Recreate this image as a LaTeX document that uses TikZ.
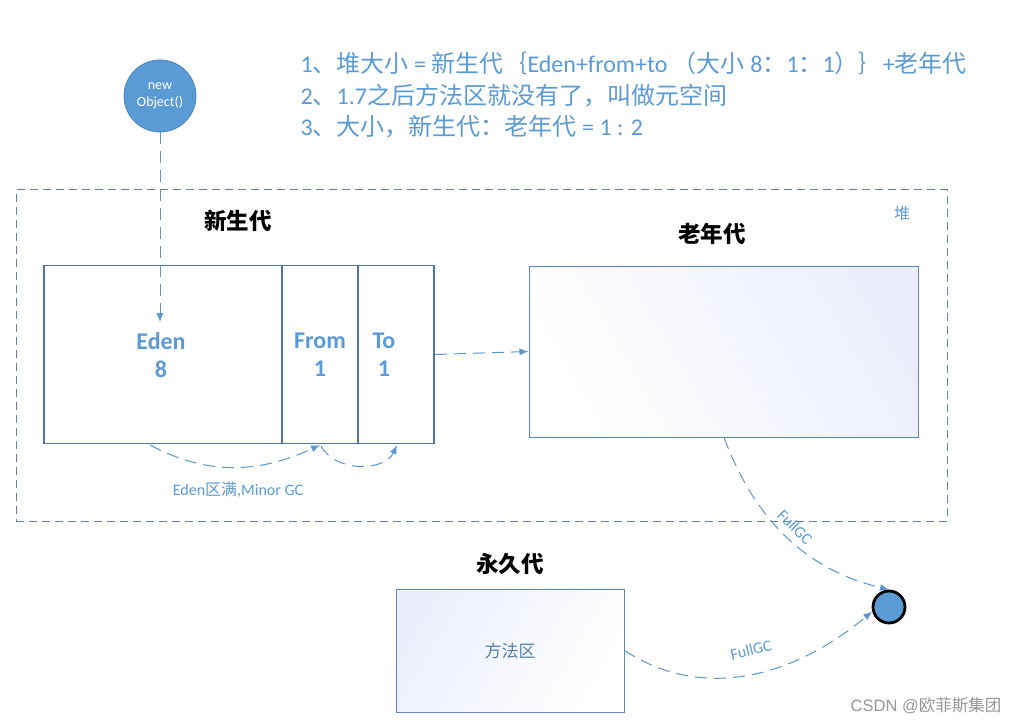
\documentclass[tikz,border=0pt]{standalone}
\usepackage{fontspec}
\setmainfont{Carlito}
\newfontfamily\cjk{Noto Sans CJK SC}
\newfontfamily\arialf{Liberation Sans}
\usetikzlibrary{arrows.meta}
\definecolor{tblue}{RGB}{91,155,213}
\definecolor{ybord}{RGB}{79,114,176}
\definecolor{obord}{RGB}{95,135,185}
\definecolor{hbord}{RGB}{95,130,165}
\definecolor{lblue}{RGB}{91,150,205}
\definecolor{mtext}{RGB}{80,125,175}
\definecolor{lav}{RGB}{236,239,251}
\definecolor{wm}{RGB}{150,150,150}
\tikzset{
  dline/.style={draw=lblue, line width=1pt, dash pattern=on 12pt off 7pt, -{Latex[length=9pt,width=7pt]}},
  ybox/.style={draw=ybord, line width=1.8pt, inner sep=0pt, minimum height=178},
  gbox/.style={draw=obord, line width=1pt, inner sep=0pt},
  boxtxt/.style={text=tblue, font=\bfseries\fontsize{24}{28}\selectfont, align=center},
  head/.style={font=\cjk\bfseries\fontsize{22.5}{26}\selectfont, text=black},
  topline/.style={anchor=west, text=tblue, font=\fontsize{24}{28}\selectfont},
  lbl/.style={text=tblue, font=\fontsize{16}{18}\selectfont}
}
\begin{document}
\begin{tikzpicture}[x=1pt,y=1pt]
\useasboundingbox (0,0) rectangle (1035,-727);
\fill[white] (0,0) rectangle (1035,-727);

% heap dashed region
\node[draw=hbord, line width=1pt, dash pattern=on 8pt off 5pt, minimum width=931, minimum height=331, inner sep=0pt] (heap) at (481.5,-355.5) {};
\node[text=tblue, font=\cjk\fontsize{16}{18}\selectfont] (heaplbl) at (902,-213) {堆};

% top notes
\node[topline] (l1) at (297,-63) {1{\cjk 、堆大小} = {\cjk 新生代｛}Eden+from+to {\cjk （大小} 8{\cjk ：}1{\cjk ：}1{\cjk ）｝}+{\cjk 老年代}};
\node[topline] (l2) at (297,-96) {2{\cjk 、}1.7{\cjk 之后方法区就没有了，叫做元空间}};
\node[topline] (l3) at (297,-127) {3{\cjk 、大小，新生代：老年代} = 1 : 2};

% new object
\node[circle, fill=tblue, draw={rgb,255:red,75;green,135;blue,195}, line width=0.8pt, minimum size=72, inner sep=0pt, text=white, align=center, font=\fontsize{14}{17}\selectfont] (obj) at (160,-96) {new\\Object()};

% young generation
\node[head] (young) at (238,-221) {新生代};
\node[ybox, minimum width=238] (eden) at (163,-354.5) {};
\node[ybox, minimum width=76] (from) at (320,-354.5) {};
\node[ybox, minimum width=76] (to) at (396,-354.5) {};
\node[boxtxt] (edent) at (161,-355) {Eden\\8};
\node[boxtxt] (fromt) at (320,-355) {From\\1};
\node[boxtxt] (tot) at (384,-355) {To\\1};

% old generation
\node[head] (oldlbl) at (712,-234) {老年代};
\node[gbox, minimum width=389, minimum height=171, left color=white, right color=lav, shading angle=120] (old) at (723.5,-351.5) {};

% permanent generation
\node[head] (permlbl) at (510,-564) {永久代};
\node[gbox, minimum width=228, minimum height=123, left color=lav, right color=white, shading angle=60] (meth) at (510,-650.5) {};
\node[text=mtext, font=\cjk\fontsize{17}{20}\selectfont] (metht) at (510,-651) {方法区};

% gc target
\node[circle, fill=tblue, draw=black, line width=2.8pt, minimum size=32, inner sep=0pt] (gc) at (889,-607) {};

% connectors
\coordinate (edenin) at (160,-322);
\draw[dline] (obj.south) -- (edenin);
\draw[dline] (to.east) -- (old.west);

\coordinate (e1) at (150,-445);
\coordinate (f1) at (320,-445);
\coordinate (f2) at (321,-446);
\coordinate (t1) at (397,-445);
\draw[dline] (e1) to[out=-28, in=-155] (f1);
\draw[dline] (f2) to[out=-62, in=-115] (t1);
\node[lbl] (minor) at (238,-490) {Eden{\cjk 区满},Minor GC};

\coordinate (o1) at (724,-437.5);
\draw[dline] (o1) .. controls (754,-517) and (803,-569) .. (gc.north);
\node[lbl, rotate=-45] (fg1) at (795,-527) {FullGC};

\draw[dline] (meth.east) .. controls (700,-700) and (790,-680) .. (gc.195);
\node[lbl, rotate=14] (fg2) at (751,-650) {FullGC};

% watermark
\node[text=wm, font=\fontsize{16.5}{19}\selectfont] (wmk) at (926,-706) {\arialf CSDN @{\cjk 欧菲斯集团}};
\end{tikzpicture}
\end{document}
